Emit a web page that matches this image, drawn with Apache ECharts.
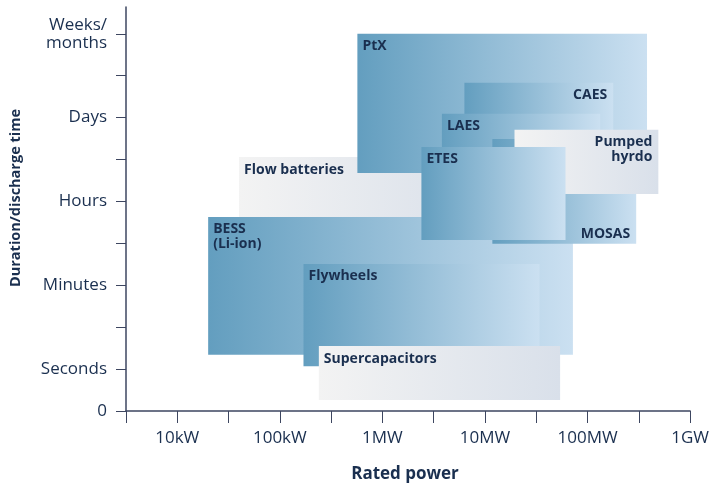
<!DOCTYPE html>
<html>
<head>
<meta charset="utf-8">
<script src="https://cdn.jsdelivr.net/npm/echarts@6/dist/echarts.min.js"></script>
<style>
  html, body { margin: 0; padding: 0; background: #fff; }
  #chart { width: 712px; height: 486px; }
</style>
</head>
<body>
<div id="chart"></div>
<script>
// storage technologies, listed back to front
const techNames = ['Flow batteries', 'BESS\n(Li-ion)', 'PtX', 'CAES', 'LAES', 'MOSAS', 'Pumped\nhyrdo', 'ETES', 'Flywheels', 'Supercapacitors']
// rated power range in kW
const powerMin = [40, 20, 570, 6300, 3800, 11800, 19400, 2400, 170, 240]
const powerMax = [10000, 72000, 380000, 178000, 133000, 298000, 490000, 61000, 34000, 54000]
// discharge time range on the 0..9 duration scale (1 = seconds ... 9 = weeks/months)
const durationMin = [4.3, 1.34, 5.68, 6.0, 6.0, 3.99, 5.18, 4.08, 1.07, 0.26]
const durationMax = [6.06, 4.63, 9.0, 7.83, 7.09, 6.49, 6.71, 6.3, 3.51, 1.55]
const labelCorner = ['tl', 'tl', 'tl', 'tr', 'tl', 'br', 'tr', 'tl', 'tl', 'tl']
const boxTone = ['grey', 'blue', 'blue', 'blue', 'blue', 'blue', 'grey', 'blue', 'blue', 'grey']

const powerTicks = { 1: '10kW', 2: '100kW', 3: '1MW', 4: '10MW', 5: '100MW', 6: '1GW' }
const durationTicks = { 0: '0', 1: 'Seconds', 3: 'Minutes', 5: 'Hours', 7: 'Days', 9: 'Weeks/\nmonths' }

const textColor = '#1a2f4f'
const axisColor = '#3d4660'
const tones = {
  blue: ['#639ebf', '#cbe0f1'],
  grey: ['#f3f3f3', '#d9e0ea']
}

const boxData = techNames.map((name, i) => [
  Math.log10(powerMin[i]), Math.log10(powerMax[i]), durationMin[i], durationMax[i]
])

function renderBox(params, api) {
  const i = params.dataIndex
  const p0 = api.coord([api.value(0), api.value(3)])
  const p1 = api.coord([api.value(1), api.value(2)])
  const x = p0[0]
  const y = p0[1]
  const w = p1[0] - p0[0]
  const h = p1[1] - p0[1]
  const corner = labelCorner[i]
  const right = corner[1] === 'r'
  const bottom = corner[0] === 'b'
  const tone = tones[boxTone[i]]
  return {
    type: 'group',
    children: [
      {
        type: 'rect',
        shape: { x, y, width: w, height: h },
        style: {
          fill: new echarts.graphic.LinearGradient(0, 0, 1, 0, [
            { offset: 0, color: tone[0] },
            { offset: 1, color: tone[1] }
          ])
        }
      },
      {
        type: 'text',
        style: {
          text: techNames[i],
          x: right ? x + w - 6 : x + 5,
          y: bottom ? y + h - 2 : y + 5,
          align: right ? 'right' : 'left',
          verticalAlign: bottom ? 'bottom' : 'top',
          font: 'bold 14px "Open Sans"',
          lineHeight: 15,
          fill: textColor
        }
      }
    ]
  }
}

const chart = echarts.init(document.getElementById('chart'))
chart.setOption({
  animation: false,
  grid: { left: 126, right: 21, top: 7, bottom: 75 },
  xAxis: {
    type: 'value',
    min: 0.5,
    max: 6,
    interval: 0.5,
    splitLine: { show: false },
    axisLine: { lineStyle: { color: axisColor, width: 1.5 } },
    axisTick: { length: 12, lineStyle: { color: axisColor } },
    axisLabel: {
      margin: 19,
      color: textColor,
      fontSize: 17,
      fontFamily: 'Open Sans',
      formatter: (v) => powerTicks[v] || ''
    }
  },
  yAxis: {
    type: 'value',
    min: 0,
    max: 9.64,
    splitLine: { show: false },
    axisLine: { show: true, lineStyle: { color: axisColor, width: 1.5 } },
    axisTick: {
      show: true,
      length: 10,
      customValues: [0, 1, 2, 3, 4, 5, 6, 7, 8, 9],
      lineStyle: { color: axisColor }
    },
    axisLabel: {
      margin: 19,
      color: textColor,
      fontSize: 17,
      lineHeight: 18,
      fontFamily: 'Open Sans',
      customValues: [0, 1, 3, 5, 7, 9],
      formatter: (v) => durationTicks[v] || ''
    }
  },
  graphic: [
    {
      type: 'text',
      x: 16,
      y: 198,
      rotation: Math.PI / 2,
      style: {
        text: 'Duration/discharge time',
        align: 'center',
        verticalAlign: 'middle',
        font: 'bold 14.5px "Open Sans"',
        fill: textColor
      }
    },
    {
      type: 'text',
      x: 405,
      y: 474,
      style: {
        text: 'Rated power',
        align: 'center',
        verticalAlign: 'middle',
        font: 'bold 17px "Open Sans"',
        fill: textColor
      }
    }
  ],
  series: [
    {
      type: 'custom',
      renderItem: renderBox,
      encode: { x: [0, 1], y: [2, 3] },
      data: boxData
    }
  ]
})
</script>
</body>
</html>
